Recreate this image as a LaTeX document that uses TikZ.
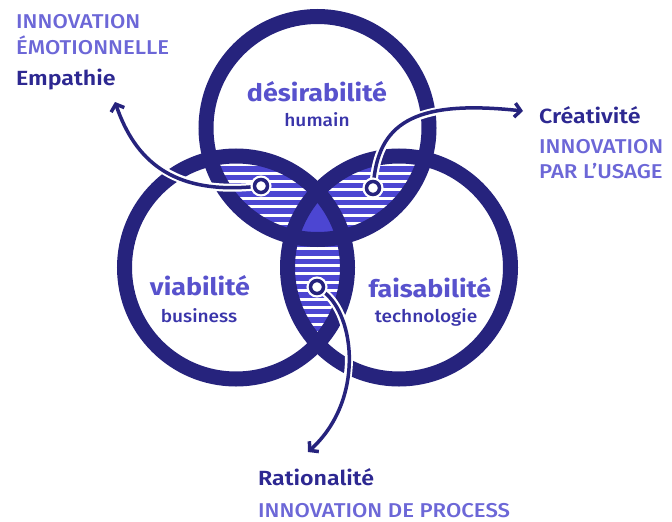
\documentclass[tikz,border=0pt]{standalone}
\usepackage{fontspec}
\setmainfont{Fira Sans}
\newfontfamily\upfont[FakeStretch=1.11]{Fira Sans Medium}
\newfontfamily\subfont[FakeStretch=1.09]{Fira Sans Medium}
\newfontfamily\keyfont[FakeStretch=1.13]{Fira Sans SemiBold}
\newfontfamily\bigfont[FakeStretch=1.12]{Fira Sans Bold}
\usetikzlibrary{arrows.meta}
\definecolor{navy}{RGB}{38,35,125}
\definecolor{lensblue}{RGB}{76,70,210}
\definecolor{maintxt}{RGB}{88,82,205}
\definecolor{subtxt}{RGB}{58,53,170}
\definecolor{uptxt}{RGB}{108,103,215}
\definecolor{keytxt}{RGB}{45,40,145}
\pgfdeclarelayer{fg}
\pgfsetlayers{main,fg}
\begin{document}
\begin{tikzpicture}[x=1pt,y=-1pt,
  ring/.style={draw=navy,line width=15pt},
  stripes/.style={white,line width=3pt},
  dotnode/.style={circle,fill=white,draw=navy,line width=3.5pt,minimum size=13pt,inner sep=0pt,
    preaction={draw=white,line width=8pt}},
  halo/.style={white,line width=8pt},
  conn/.style={navy,line width=3.5pt,-{Straight Barb[length=6pt,width=14pt]}},
  bigword/.style={anchor=base,font=\bigfont\fontsize{24}{26}\selectfont,text=maintxt,inner sep=0pt},
  smallword/.style={anchor=base,font=\subfont\fontsize{17.5}{19}\selectfont,text=subtxt,inner sep=0pt},
  uplabel/.style={anchor=base west,font=\upfont\fontsize{20}{21}\selectfont,text=uptxt,inner sep=0pt},
  keylabel/.style={anchor=base west,font=\keyfont\fontsize{20.5}{22}\selectfont,text=keytxt,inner sep=0pt}]
\useasboundingbox (0,0) rectangle (672,522);
\coordinate (T) at (317.5,128);
\coordinate (L) at (236,267.5);
\coordinate (R) at (399,267.5);
\def\rr{111.5pt}
% pairwise lenses with stripes
\begin{scope}
  \clip (T) circle[radius=\rr];
  \clip (L) circle[radius=\rr];
  \fill[lensblue] (100,100) rectangle (560,420);
  \foreach \k in {0,...,40} \draw[stripes] (100,{131+\k*8.4}) -- (560,{131+\k*8.4});
\end{scope}
\begin{scope}
  \clip (T) circle[radius=\rr];
  \clip (R) circle[radius=\rr];
  \fill[lensblue] (100,100) rectangle (560,420);
  \foreach \k in {0,...,40} \draw[stripes] (100,{131+\k*8.4}) -- (560,{131+\k*8.4});
\end{scope}
\begin{scope}
  \clip (L) circle[radius=\rr];
  \clip (R) circle[radius=\rr];
  \fill[lensblue] (100,100) rectangle (560,420);
  \foreach \k in {0,...,40} \draw[stripes] (100,{131+\k*8.4}) -- (560,{131+\k*8.4});
\end{scope}
% triple intersection
\begin{scope}
  \clip (T) circle[radius=\rr];
  \clip (L) circle[radius=\rr];
  \clip (R) circle[radius=\rr];
  \fill[lensblue] (100,100) rectangle (560,420);
\end{scope}
% rings
\draw[ring] (T) circle[radius=\rr];
\draw[ring] (L) circle[radius=\rr];
\draw[ring] (R) circle[radius=\rr];
% circle texts
\node[bigword] (des) at (317,101.5) {désirabilité};
\node[smallword] (hum) at (317,126) {humain};
\node[bigword] (via) at (200,295) {viabilité};
\node[smallword] (bus) at (199,322) {business};
\node[bigword] (fai) at (430,297) {faisabilité};
\node[smallword] (tec) at (426,322) {technologie};
% outer labels
\node[uplabel] (i1) at (16,28) {INNOVATION};
\node[uplabel] (i2) at (16,54) {ÉMOTIONNELLE};
\node[keylabel] (emp) at (16,85) {Empathie};
\node[keylabel] (cre) at (539,123) {Créativité};
\node[uplabel] (i3) at (539,153) {INNOVATION};
\node[uplabel] (i4) at (539,178) {PAR L’USAGE};
\node[keylabel] (rat) at (258,485) {Rationalité};
\node[uplabel] (i5) at (258,517) {INNOVATION DE PROCESS};
% dots
\begin{pgfonlayer}{fg}
\node[dotnode] (d1) at (261,186) {};
\node[dotnode] (d2) at (373,188) {};
\node[dotnode] (d3) at (317,287) {};
\end{pgfonlayer}
\coordinate (tE) at (115,102);
\coordinate (tC) at (523,111);
\coordinate (tR) at (308,452);
% connectors
\draw[halo] (d1) .. controls (172,194) and (135,160) .. (tE);
\draw[halo] (d2) .. controls (380,120) and (420,100) .. (tC);
\draw[halo] (d3) .. controls (355,315) and (365,400) .. (tR);
\draw[conn] (d1) .. controls (172,194) and (135,160) .. (tE);
\draw[conn] (d2) .. controls (380,120) and (420,100) .. (tC);
\draw[conn] (d3) .. controls (355,315) and (365,400) .. (tR);
\end{tikzpicture}
\end{document}
